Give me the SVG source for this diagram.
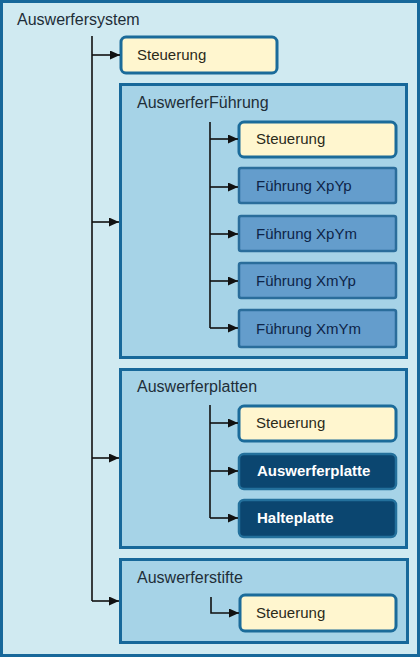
<svg xmlns="http://www.w3.org/2000/svg" width="420" height="657" viewBox="0 0 420 657">
<defs>
<marker id="ah" markerWidth="10" markerHeight="9" refX="10" refY="4.5" orient="auto" markerUnits="userSpaceOnUse">
<path d="M0,0 L10,4.5 L0,9 Z" fill="#111"/>
</marker>
<style>
text{font-family:"Liberation Sans",Arial,sans-serif;font-size:15px}
.outer{fill:#d0eaf1;stroke:#17689a;stroke-width:3}
.cont{fill:#a6d3e7;stroke:#17689a;stroke-width:3}
.ctl{fill:#fff6cf;stroke:#1b6b9a;stroke-width:3}
.fuhr{fill:#649dcc;stroke:#2a6d9b;stroke-width:2.5}
.dark{fill:#0b4670;stroke:#23709c;stroke-width:2.5}
.lbl{fill:#1e2e38;font-size:16px}
.ctlt{fill:#2a2a1a}
.ft{fill:#0d2448}
.dt{fill:#ffffff;font-weight:bold}
.ln{fill:none;stroke:#111;stroke-width:1.6}
</style>
</defs>
<g id="auswerfersystem">
<rect class="outer" x="1.5" y="1.5" width="417" height="654"/>
<text class="lbl" x="17" y="25">Auswerfersystem</text>
</g>
<g id="steuerung1">
<rect class="ctl" x="121" y="37" width="156" height="36" rx="5"/>
<text class="ctlt" x="137" y="60">Steuerung</text>
</g>
<g id="auswerferfuehrung">
<rect class="cont" x="120.5" y="84.5" width="286" height="273"/>
<text class="lbl" x="137" y="108">AuswerferFührung</text>
</g>
<g id="steuerung2">
<rect class="ctl" x="239" y="122" width="157" height="35" rx="5"/>
<text class="ctlt" x="256" y="144">Steuerung</text>
</g>
<g id="fuehrung-xpyp">
<rect class="fuhr" x="239" y="168" width="157" height="35" rx="2"/>
<text class="ft" x="256" y="191">Führung XpYp</text>
</g>
<g id="fuehrung-xpym">
<rect class="fuhr" x="239" y="216" width="157" height="35" rx="2"/>
<text class="ft" x="256" y="239">Führung XpYm</text>
</g>
<g id="fuehrung-xmyp">
<rect class="fuhr" x="239" y="263" width="157" height="35" rx="2"/>
<text class="ft" x="256" y="286">Führung XmYp</text>
</g>
<g id="fuehrung-xmym">
<rect class="fuhr" x="239" y="310" width="157" height="37" rx="2"/>
<text class="ft" x="256" y="334">Führung XmYm</text>
</g>
<g id="auswerferplatten">
<rect class="cont" x="120.5" y="369.5" width="286" height="178"/>
<text class="lbl" x="137" y="392">Auswerferplatten</text>
</g>
<g id="steuerung3">
<rect class="ctl" x="239" y="406" width="157" height="35" rx="5"/>
<text class="ctlt" x="256" y="428">Steuerung</text>
</g>
<g id="auswerferplatte">
<rect class="dark" x="239" y="454" width="157" height="35" rx="5"/>
<text class="dt" x="257" y="476">Auswerferplatte</text>
</g>
<g id="halteplatte">
<rect class="dark" x="239" y="500" width="157" height="37" rx="5"/>
<text class="dt" x="257" y="523">Halteplatte</text>
</g>
<g id="auswerferstifte">
<rect class="cont" x="120.5" y="559.5" width="287" height="83"/>
<text class="lbl" x="137" y="583">Auswerferstifte</text>
</g>
<g id="steuerung4">
<rect class="ctl" x="240" y="595" width="156" height="36" rx="5"/>
<text class="ctlt" x="256" y="618">Steuerung</text>
</g>
<g id="connectors">
<path class="ln" d="M92,36 V601"/>
<path class="ln" d="M92,55 H120" marker-end="url(#ah)"/>
<path class="ln" d="M92,222 H119" marker-end="url(#ah)"/>
<path class="ln" d="M92,458 H119" marker-end="url(#ah)"/>
<path class="ln" d="M92,601 H119" marker-end="url(#ah)"/>
<path class="ln" d="M210,122 V328"/>
<path class="ln" d="M210,139 H238" marker-end="url(#ah)"/>
<path class="ln" d="M210,187 H238" marker-end="url(#ah)"/>
<path class="ln" d="M210,234 H238" marker-end="url(#ah)"/>
<path class="ln" d="M210,281 H238" marker-end="url(#ah)"/>
<path class="ln" d="M210,328 H238" marker-end="url(#ah)"/>
<path class="ln" d="M210,405 V518"/>
<path class="ln" d="M210,423 H238" marker-end="url(#ah)"/>
<path class="ln" d="M210,471 H238" marker-end="url(#ah)"/>
<path class="ln" d="M210,518 H238" marker-end="url(#ah)"/>
<path class="ln" d="M211,597 V613 H239" marker-end="url(#ah)"/>
</g>
</svg>
